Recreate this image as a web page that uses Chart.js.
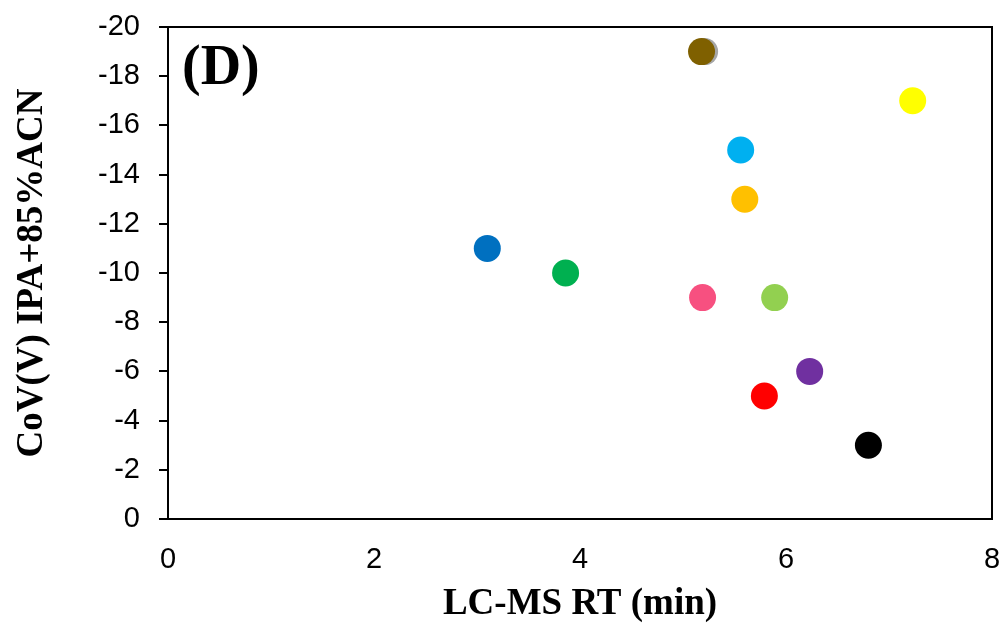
<!DOCTYPE html>
<html>
<head>
<meta charset="utf-8">
<script src="https://cdn.jsdelivr.net/npm/chart.js@4"></script>
<style>
  html, body { margin: 0; padding: 0; background: #fff; }
  #wrap { width: 1001px; height: 630px; }
</style>
</head>
<body>
<div id="wrap"><canvas id="c" width="1001" height="630"></canvas></div>
<script>
// Data
const retentionTimes = [3.10, 3.86, 5.19, 5.89, 6.23, 5.79, 6.80, 7.23, 5.56, 5.60, 5.21, 5.18];
const covValues      = [-11, -10, -9, -9, -6, -5, -3, -17, -15, -13, -19, -19];
const pointColors    = ['#0070C0', '#00B050', '#F75080', '#92D050', '#7030A0', '#FF0000',
                        '#000000', '#FFFF00', '#00B0F0', '#FFC000', '#A6A6A6', '#7F6000'];
const xTicks = [0, 2, 4, 6, 8];
const yTicks = [0, -2, -4, -6, -8, -10, -12, -14, -16, -18, -20];
const xTitle = 'LC-MS RT (min)';
const yTitle = 'CoV(V) IPA+85%ACN';
const panelLabel = '(D)';

const points = retentionTimes.map((x, i) => ({ x: x, y: covValues[i] }));

const framePlugin = {
  id: 'frame',
  afterDraw(chart) {
    const { ctx, chartArea: a } = chart;
    ctx.save();
    ctx.strokeStyle = '#000';
    ctx.lineWidth = 2;
    ctx.strokeRect(a.left, a.top, a.right - a.left, a.bottom - a.top);
    ctx.font = 'bold 56px "Liberation Serif", "Times New Roman", serif';
    ctx.fillStyle = '#000';
    ctx.textBaseline = 'alphabetic';
    ctx.textAlign = 'left';
    ctx.fillText(panelLabel, a.left + 14, a.top + 57);
    ctx.restore();
  }
};

new Chart(document.getElementById('c'), {
  type: 'scatter',
  data: {
    datasets: [{
      data: points,
      backgroundColor: pointColors,
      borderColor: pointColors,
      borderWidth: 0,
      pointRadius: 13.5,
      pointHoverRadius: 13.5
    }]
  },
  options: {
    responsive: false,
    animation: false,
    events: [],
    layout: { autoPadding: false, padding: { left: 0, top: 27, right: 9, bottom: 0 } },
    plugins: { legend: { display: false }, tooltip: { enabled: false } },
    scales: {
      x: {
        type: 'linear',
        min: 0, max: 8,
        afterFit(s) { s.height = 111; s.paddingLeft = 0; s.paddingRight = 0; },
        afterBuildTicks(s) { s.ticks = xTicks.map(v => ({ value: v })); },
        border: { display: false },
        grid: { display: true, drawOnChartArea: false, drawTicks: false },
        ticks: {
          color: '#000',
          padding: 24,
          maxRotation: 0,
          font: { family: '"Liberation Sans", Arial, sans-serif', size: 29 }
        },
        title: {
          display: true,
          text: xTitle,
          color: '#000',
          padding: { top: 0, bottom: 3 },
          font: { family: '"Liberation Serif", "Times New Roman", serif', size: 37, weight: 'bold', lineHeight: 1.2 }
        }
      },
      y: {
        type: 'linear',
        min: -20, max: 0,
        reverse: true,
        afterFit(s) { s.width = 168; s.paddingTop = 0; s.paddingBottom = 0; },
        afterBuildTicks(s) { s.ticks = yTicks.map(v => ({ value: v })); },
        border: { display: false },
        grid: { display: true, drawOnChartArea: false, drawTicks: true, tickLength: 9, color: '#000', lineWidth: 2 },
        ticks: {
          color: '#000',
          padding: 19,
          font: { family: '"Liberation Sans", Arial, sans-serif', size: 29 }
        },
        title: {
          display: true,
          text: yTitle,
          color: '#000',
          padding: { top: 10, bottom: 0 },
          font: { family: '"Liberation Serif", "Times New Roman", serif', size: 37, weight: 'bold', lineHeight: 1.2 }
        }
      }
    }
  },
  plugins: [framePlugin]
});
</script>
</body>
</html>
